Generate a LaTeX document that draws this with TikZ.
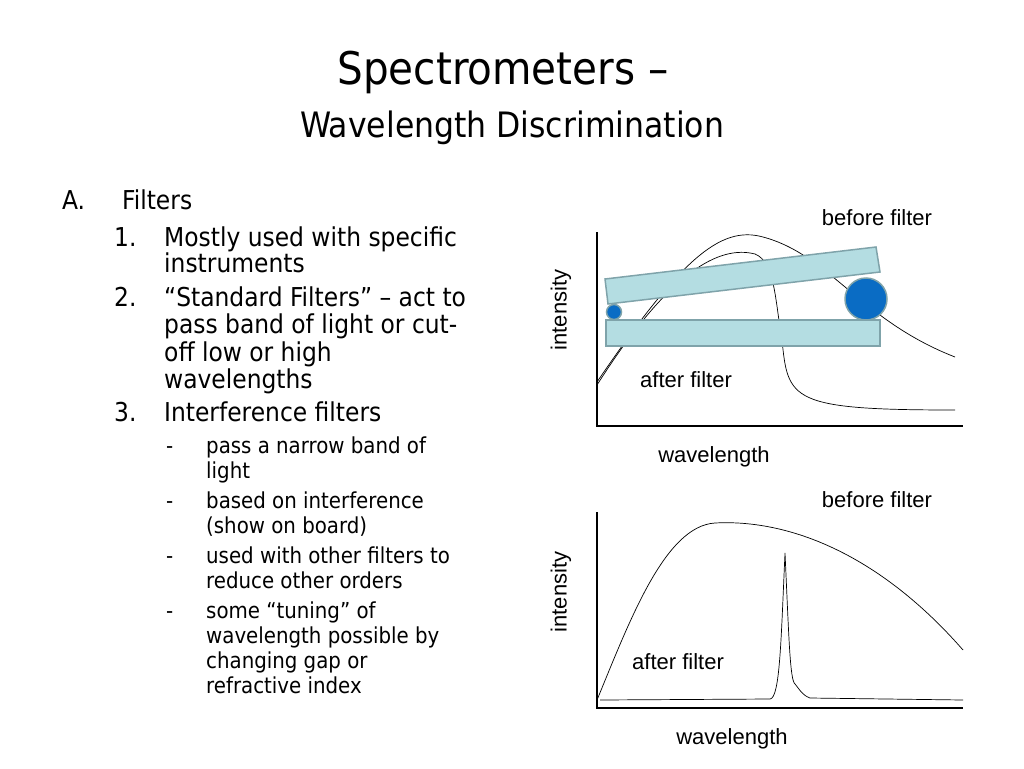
\documentclass[tikz,border=0pt]{standalone}
\usepackage{fontspec}
\setmainfont{DejaVu Sans Condensed}
\newfontfamily\arialf{Liberation Sans}
\definecolor{platefill}{HTML}{B4DDE2}
\definecolor{plateedge}{HTML}{7FA3AA}
\definecolor{ballfill}{HTML}{0A6CC4}
\begin{document}
\begin{tikzpicture}[x=1pt,y=-1pt,
  txt/.style={anchor=base west,inner sep=0pt,font=\fontsize{26}{26}\selectfont},
  sub/.style={anchor=base west,inner sep=0pt,font=\fontsize{22}{22}\selectfont},
  lab/.style={inner sep=0pt,font=\arialf\fontsize{22}{22}\selectfont},
  plate/.style={fill=platefill,draw=plateedge,line width=1.5pt},
  ball/.style={circle,fill=ballfill,draw=plateedge,line width=1.5pt,inner sep=0pt}]
\useasboundingbox (0,0) rectangle (1024,768);
\node[inner sep=0pt,font=\fontsize{45}{45}\selectfont] (t1) at (503,72) {Spectrometers –};
\node[inner sep=0pt,font=\fontsize{35}{35}\selectfont] (t2) at (512,128) {Wavelength Discrimination};
\node[txt] (a) at (62,209) {A.};
\node[txt] (a2) at (122,209) {Filters};
\node[txt] (n1) at (114,246) {1.};
\node[txt] (l1) at (164,246) {Mostly used with specific};
\node[txt] (l2) at (164,272) {instruments};
\node[txt] (n2) at (114,306) {2.};
\node[txt] (l3) at (164,306) {“Standard Filters” – act to};
\node[txt] (l4) at (164,333) {pass band of light or cut-};
\node[txt] (l5) at (164,361) {off low or high};
\node[txt] (l6) at (164,388) {wavelengths};
\node[txt] (n3) at (114,421) {3.};
\node[txt] (l7) at (164,421) {Interference filters};
\foreach \y/\t [count=\i] in {453/pass a narrow band of,478/light,508/based on interference,533/(show on board),563/used with other filters to,588/reduce other orders,618/some “tuning” of,643/wavelength possible by,668/changing gap or,693/refractive index}{
  \node[sub] (s\i) at (206,\y) {\t};}
\foreach \y [count=\i] in {453,508,563,618}{\node[sub] (d\i) at (166,\y) {-};}
% top plot
\coordinate (o1) at (597,426);
\draw[line width=1.2pt] (597,232) -- (o1) -- (963,426);
\draw[line width=0.7pt] (597,382) .. controls (680,260) and (720,225) .. (763,237) .. controls (830,255) and (860,320) .. (955,357);
\draw[line width=0.7pt] (597,385) .. controls (670,270) and (720,245) .. (755,254) .. controls (775,262) and (775,300) .. (782,340) .. controls (788,400) and (790,410) .. (955,410);
\draw[plate] (606,320) rectangle (880,346);
\draw[plate] (605,279) -- (876,247) -- (880,272) -- (608,304) -- cycle;
\node[ball,minimum size=15pt] (b1) at (614,312) {};
\node[ball,minimum size=42pt] (b2) at (866,299) {};
\node[lab] (bf1) at (877,218) {before filter};
\node[lab] (af1) at (686,380) {after filter};
\node[lab] (w1) at (714,457) {wavelength};
\node[lab,rotate=90] (i1) at (561,310) {intensity};
% bottom plot
\coordinate (o2) at (597,708);
\draw[line width=1.2pt] (597,512) -- (o2) -- (963,708);
\draw[line width=0.7pt] (597,700) .. controls (630,620) and (665,526) .. (715,523) .. controls (790,519) and (880,555) .. (963,650);
\draw[line width=0.7pt] (600,700) -- (770,699) .. controls (780,698) and (781,640) .. (785,553) .. controls (789,640) and (790,680) .. (795,684) .. controls (800,690) and (802,695) .. (810,698) -- (963,700);
\node[lab] (bf2) at (877,500) {before filter};
\node[lab] (af2) at (678,662) {after filter};
\node[lab] (w2) at (732,739) {wavelength};
\node[lab,rotate=90] (i2) at (561,592) {intensity};
\end{tikzpicture}
\end{document}
